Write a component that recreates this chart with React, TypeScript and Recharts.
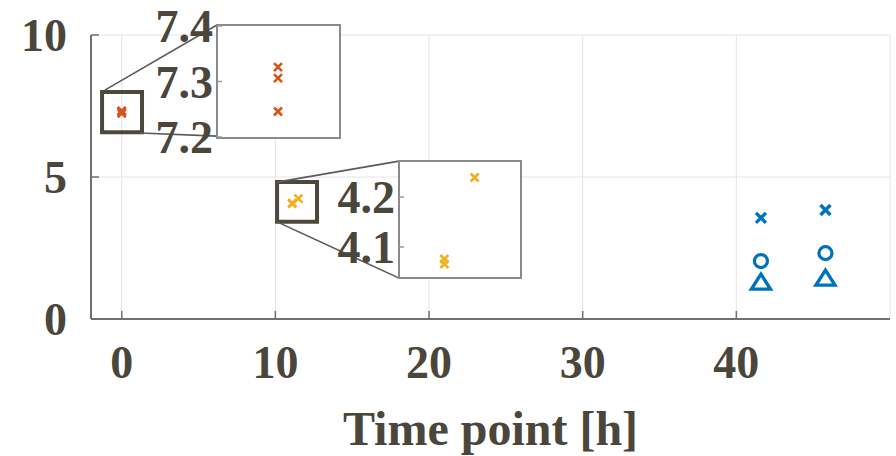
import React from "react";
import {
  ScatterChart,
  Scatter,
  XAxis,
  YAxis,
  CartesianGrid,
  ReferenceArea,
  ReferenceLine,
  Label,
} from "recharts";

// ---- data ----
const xTicks = [0, 10, 20, 30, 40];
const yTicks = [0, 5, 10];

const redTime = [0, 0, 0];
const redValue = [7.326, 7.306, 7.246];

const yellowTime = [11.1, 11.1, 11.5];
const yellowValue = [4.076, 4.066, 4.239];

const blueTime = [41.6, 45.8];
const blueCross = [3.56, 3.84];
const blueCircle = [2.04, 2.32];
const blueTriangle = [1.3, 1.44];

// zoom insets
const inset1XTicks = [0];
const inset1YTicks = [7.2, 7.3, 7.4];
const inset2XTicks = [11.5];
const inset2YTicks = [4.1, 4.2];

// zoom rectangles + connectors, in main data coordinates
const zoomBoxes = [
  { x1: -1.28, x2: 1.32, y1: 6.58, y2: 7.99 },
  { x1: 10.11, x2: 12.71, y1: 3.42, y2: 4.82 },
];
const connectors = [
  [{ x: -1.1, y: 8.06 }, { x: 6.2, y: 10.35 }],
  [{ x: 1.2, y: 6.55 }, { x: 6.2, y: 6.44 }],
  [{ x: 10.11, y: 4.82 }, { x: 18.05, y: 5.56 }],
  [{ x: 10.11, y: 3.42 }, { x: 18.05, y: 1.44 }],
];

const W = 896;
const H = 456;
const TEXT = "#4b463c";
const FRAME = "#707070";
const FONT = "'Liberation Serif', 'Times New Roman', serif";
const RED = "#D95319";
const YELLOW = "#EDB120";
const BLUE = "#0072BD";

const toPoints = (xs: number[], ys: number[]) => xs.map((x, i) => ({ x, y: ys[i] }));

const tickStyle = { fontSize: 46, fontWeight: 700, fill: TEXT, fontFamily: FONT };

const xMark = (half: number, sw: number, color: string) => (props: any) => {
  const { cx, cy } = props;
  if (cx == null || cy == null) return <g />;
  return (
    <path
      d={`M${cx - half},${cy - half}L${cx + half},${cy + half}M${cx - half},${cy + half}L${cx + half},${cy - half}`}
      stroke={color}
      strokeWidth={sw}
      fill="none"
    />
  );
};

const ringMark = (props: any) => {
  const { cx, cy } = props;
  if (cx == null || cy == null) return <g />;
  return <circle cx={cx} cy={cy} r={6.5} stroke={BLUE} strokeWidth={3.2} fill="none" />;
};

const triMark = (props: any) => {
  const { cx, cy } = props;
  if (cx == null || cy == null) return <g />;
  return (
    <path
      d={`M${cx},${cy - 8}L${cx + 9.5},${cy + 7}L${cx - 9.5},${cy + 7}Z`}
      stroke={BLUE}
      strokeWidth={3.4}
      strokeLinejoin="miter"
      fill="none"
    />
  );
};

interface InsetProps {
  box: { left: number; top: number; right: number; bottom: number };
  xDomain: [number, number];
  yDomain: [number, number];
  xTicksIn: number[];
  yTicksIn: number[];
  data: { x: number; y: number }[];
  color: string;
}

function Inset({ box, xDomain, yDomain, xTicksIn, yTicksIn, data, color }: InsetProps) {
  const tickLine = { stroke: "#9a9a9a", strokeWidth: 1.5 };
  return (
    <>
      <div
        style={{
          position: "absolute",
          left: box.left - 1,
          top: box.top - 1,
          width: box.right - box.left + 2,
          height: box.bottom - box.top + 2,
          boxSizing: "border-box",
          border: "2px solid #8a8a8a",
          background: "#fff",
        }}
      />
      <div style={{ position: "absolute", left: 0, top: 0 }}>
        <ScatterChart
          width={W}
          height={H}
          margin={{ top: box.top, right: W - box.right, bottom: H - box.bottom, left: 0 }}
        >
          <XAxis
            dataKey="x"
            type="number"
            domain={xDomain}
            ticks={xTicksIn}
            height={1}
            tick={false}
            tickSize={-5}
            axisLine={false}
            tickLine={tickLine}
            allowDataOverflow
          />
          <XAxis
            xAxisId="t"
            orientation="top"
            type="number"
            domain={xDomain}
            ticks={xTicksIn}
            height={1}
            tick={false}
            tickSize={-5}
            axisLine={false}
            tickLine={tickLine}
            allowDataOverflow
          />
          <YAxis
            dataKey="y"
            type="number"
            domain={yDomain}
            ticks={yTicksIn}
            width={box.left}
            interval={0}
            tickSize={-5}
            tickMargin={9}
            axisLine={false}
            tickLine={tickLine}
            tick={tickStyle}
            tickFormatter={(v: number) => v.toFixed(1)}
            allowDataOverflow
          />
          <YAxis
            yAxisId="r"
            orientation="right"
            type="number"
            domain={yDomain}
            ticks={yTicksIn}
            width={1}
            tick={false}
            tickSize={-5}
            axisLine={false}
            tickLine={tickLine}
            allowDataOverflow
          />
          <Scatter data={data} shape={xMark(4, 2.6, color)} isAnimationActive={false} />
        </ScatterChart>
      </div>
    </>
  );
}

export default function App() {
  const axisLine = { stroke: FRAME, strokeWidth: 2 };
  const tickLine = { stroke: FRAME, strokeWidth: 1.5 };
  return (
    <div style={{ position: "absolute", left: 0, top: 0, width: W, height: H, background: "#fff" }}>
      <ScatterChart width={W} height={H} margin={{ top: 35, right: 6, bottom: 0, left: 0 }}>
        <CartesianGrid stroke="#e4e4e4" strokeWidth={1} />
        <XAxis
          dataKey="x"
          type="number"
          domain={[-2, 50]}
          ticks={xTicks}
          interval={0}
          height={137}
          tickSize={-8}
          tickMargin={34}
          axisLine={axisLine}
          tickLine={tickLine}
          tick={tickStyle}
          allowDataOverflow
        >
          <Label
            value="Time point [h]"
            position="insideBottom"
            offset={11}
            style={{ fontSize: 48, fontWeight: 700, fill: TEXT, fontFamily: FONT }}
          />
        </XAxis>
        <XAxis
          xAxisId="t"
          orientation="top"
          type="number"
          domain={[-2, 50]}
          ticks={xTicks}
          height={0}
          tick={false}
          tickSize={-8}
          axisLine={axisLine}
          tickLine={tickLine}
          allowDataOverflow
        />
        <YAxis
          dataKey="y"
          type="number"
          domain={[0, 10]}
          ticks={yTicks}
          interval={0}
          width={91}
          tickSize={-8}
          tickMargin={32}
          axisLine={axisLine}
          tickLine={tickLine}
          tick={tickStyle}
          allowDataOverflow
        />
        <YAxis
          yAxisId="r"
          orientation="right"
          type="number"
          domain={[0, 10]}
          ticks={yTicks}
          width={0}
          tick={false}
          tickSize={-8}
          axisLine={axisLine}
          tickLine={tickLine}
          allowDataOverflow
        />
        {connectors.map((seg, i) => (
          <ReferenceLine
            key={`c${i}`}
            segment={seg}
            stroke="#5a5a5a"
            strokeWidth={1.6}
            ifOverflow="visible"
          />
        ))}
        {zoomBoxes.map((b, i) => (
          <ReferenceArea
            key={`b${i}`}
            x1={b.x1}
            x2={b.x2}
            y1={b.y1}
            y2={b.y2}
            fill="none"
            fillOpacity={0}
            stroke="#4d483d"
            strokeWidth={4}
            strokeOpacity={1}
            ifOverflow="visible"
          />
        ))}
        <Scatter data={toPoints(redTime, redValue)} shape={xMark(4, 2.6, RED)} isAnimationActive={false} />
        <Scatter data={toPoints(yellowTime, yellowValue)} shape={xMark(4, 2.6, YELLOW)} isAnimationActive={false} />
        <Scatter data={toPoints(blueTime, blueCross)} shape={xMark(5, 3.4, BLUE)} isAnimationActive={false} />
        <Scatter data={toPoints(blueTime, blueCircle)} shape={ringMark} isAnimationActive={false} />
        <Scatter data={toPoints(blueTime, blueTriangle)} shape={triMark} isAnimationActive={false} />
      </ScatterChart>

      <Inset
        box={{ left: 217, top: 25, right: 340, bottom: 138 }}
        xDomain={[-0.5, 0.5]}
        yDomain={[7.2, 7.4]}
        xTicksIn={inset1XTicks}
        yTicksIn={inset1YTicks}
        data={toPoints(redTime, redValue)}
        color={RED}
      />
      <Inset
        box={{ left: 399, top: 161, right: 521, bottom: 278 }}
        xDomain={[10.5, 12.1]}
        yDomain={[4.04, 4.27]}
        xTicksIn={inset2XTicks}
        yTicksIn={inset2YTicks}
        data={toPoints(yellowTime, yellowValue)}
        color={YELLOW}
      />
    </div>
  );
}
